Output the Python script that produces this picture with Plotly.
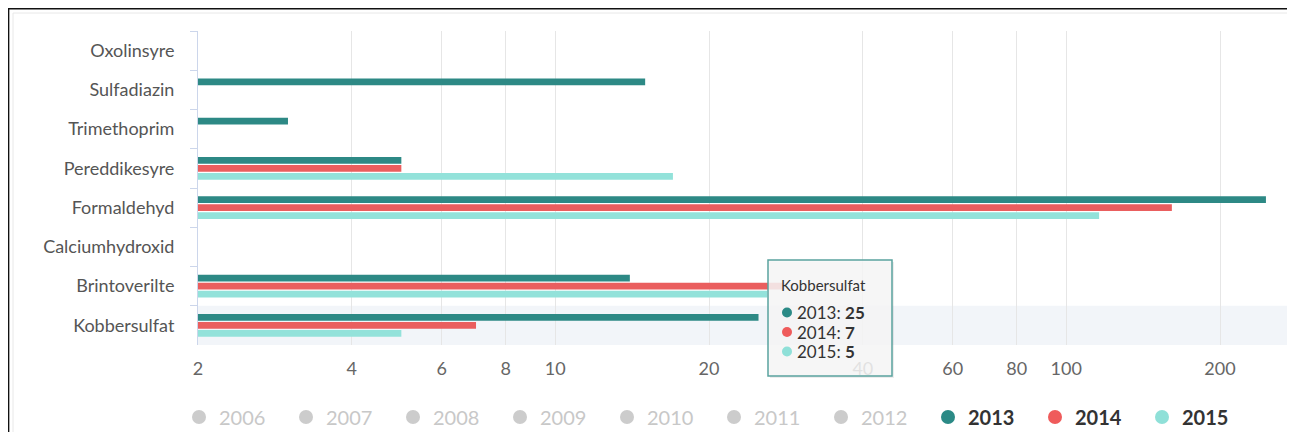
import plotly.graph_objects as go

# ---- data ----
categories = ["Oxolinsyre", "Sulfadiazin", "Trimethoprim", "Pereddikesyre",
              "Formaldehyd", "Calciumhydroxid", "Brintoverilte", "Kobbersulfat"]
years_shown = ["2013", "2014", "2015"]
v2013 = [None, 15, 3, 5, 246, None, 14, 25]
v2014 = [None, None, None, 5, 161, None, 28, 7]
v2015 = [None, None, None, 17, 116, None, 26, 5]
hidden_years = ["2006", "2007", "2008", "2009", "2010", "2011", "2012"]
x_ticks = [2, 4, 6, 8, 10, 20, 40, 60, 80, 100, 200]
tooltip_category = "Kobbersulfat"

colors = {"2013": "#2d8985", "2014": "#ea5e5e", "2015": "#93e2da"}
dot_colors = {"2013": "#2b8a86", "2014": "#ef5b5b", "2015": "#8fe0d8"}
series = {"2013": v2013, "2014": v2014, "2015": v2015}

# ---- geometry: reference page pixels, page has an 8px body margin ----
OFF = 8
W, H = 1287, 440                      # figure size (viewport shows 1287x424)
L, R, T, B = 198 - OFF, 1287 - OFF, 31 - OFF, 345 - OFF
PW, PH = R - L, B - T
PX_PER_DECADE = 511.0
XMIN_LOG = 0.30103
XMAX_LOG = XMIN_LOG + PW / PX_PER_DECADE


def px(xpage):
    return (xpage - OFF - L) / PW


def py(ypage):
    return (B - (ypage - OFF)) / PH


FONT = "Lato"
fig = go.Figure()

for yr in years_shown:
    fig.add_trace(go.Bar(
        y=categories, x=series[yr], orientation="h", name=yr,
        marker=dict(color=colors[yr], line=dict(width=0)),
        showlegend=False, hoverinfo="skip",
    ))

# legend entries with circle symbols
for yr in hidden_years:
    fig.add_trace(go.Scatter(
        x=[None], y=[None], mode="markers",
        name=f"<span style='color:#c8c8c8'>{yr}</span>",
        marker=dict(color="#cccccc", size=14, symbol="circle"),
        showlegend=True, hoverinfo="skip",
    ))
for yr in years_shown:
    fig.add_trace(go.Scatter(
        x=[None], y=[None], mode="markers",
        name=f"<b>{yr}</b>",
        marker=dict(color=dot_colors[yr], size=14, symbol="circle"),
        showlegend=True, hoverinfo="skip",
    ))

idx = categories.index(tooltip_category)
vals = [series[yr][idx] for yr in years_shown]

shapes = [
    # hover band
    dict(type="rect", xref="x domain", yref="y", x0=0, x1=1,
         y0=idx - 0.5, y1=idx + 0.5, fillcolor="#f2f5f9",
         line=dict(width=0), layer="below"),
    # container frames
    dict(type="rect", xref="paper", yref="paper",
         x0=px(13), x1=px(1288), y0=py(13), y1=py(460),
         line=dict(color="#e8e8e8", width=1), fillcolor="rgba(0,0,0,0)"),
    dict(type="line", xref="paper", yref="paper",
         x0=px(8.6), x1=px(8.6), y0=py(8), y1=py(460),
         line=dict(color="#111111", width=1.5)),
    dict(type="line", xref="paper", yref="paper",
         x0=px(8), x1=px(1291), y0=py(8.7), y1=py(8.7),
         line=dict(color="#111111", width=1.5)),
    dict(type="line", xref="paper", yref="paper",
         x0=px(1291), x1=px(1291), y0=py(8), y1=py(460),
         line=dict(color="#111111", width=1.5)),
    # tooltip shadow + box
    dict(type="rect", xref="paper", yref="paper",
         x0=px(770), x1=px(894), y0=py(262), y1=py(378),
         fillcolor="rgba(0,0,0,0.07)", line=dict(width=0)),
    dict(type="rect", xref="paper", yref="paper",
         x0=px(768), x1=px(892), y0=py(260), y1=py(376),
         fillcolor="rgba(247,247,247,0.86)",
         line=dict(color="#5aa39e", width=1.5)),
]

annotations = [
    dict(xref="paper", yref="paper", x=px(779), y=py(285),
         xanchor="left", yanchor="middle", showarrow=False,
         text=tooltip_category,
         font=dict(family=FONT, size=15, color="#333333")),
]
line_y = [312.5, 332, 351.5]
for yr, v, yy in zip(years_shown, vals, line_y):
    shapes.append(dict(type="circle", xref="paper", yref="paper",
                       x0=px(782), x1=px(792), y0=py(yy + 5), y1=py(yy - 5),
                       fillcolor=dot_colors[yr], line=dict(width=0)))
    annotations.append(dict(
        xref="paper", yref="paper", x=px(796), y=py(yy),
        xanchor="left", yanchor="middle", showarrow=False,
        text=f"{yr}: <b>{v}</b>", borderpad=0,
        font=dict(family=FONT, size=17, color="#333333")))

fig.update_layout(
    width=W, height=H,
    margin=dict(l=L, r=W - R, t=T, b=H - B, pad=0, autoexpand=False),
    paper_bgcolor="white", plot_bgcolor="white",
    barmode="group", bargap=0.39, bargroupgap=0.15,
    font=dict(family=FONT, color="#555555"),
    hovermode=False,
    xaxis=dict(
        type="log", range=[XMIN_LOG, XMAX_LOG],
        tickvals=x_ticks, ticktext=[str(t) for t in x_ticks],
        showgrid=True, gridcolor="#e6e6e6", gridwidth=1,
        zeroline=False, showline=False, ticks="",
        tickfont=dict(family=FONT, size=18, color="#666666"),
        ticklabelstandoff=11,
    ),
    yaxis=dict(
        type="category", autorange="reversed",
        showgrid=False, zeroline=False,
        showline=True, linecolor="#ccd6eb", linewidth=1,
        ticks="outside", tickson="boundaries", ticklen=7,
        tickcolor="#ccd6eb",
        tickfont=dict(family=FONT, size=18, color="#555555"),
        ticklabelstandoff=19,
    ),
    legend=dict(
        orientation="h", x=(171 - L) / PW, y=py(417), xanchor="left",
        yanchor="middle", entrywidth=62, entrywidthmode="pixels",
        font=dict(family=FONT, size=20, color="#333333"),
        bgcolor="rgba(0,0,0,0)", itemclick=False, itemdoubleclick=False,
    ),
    shapes=shapes, annotations=annotations,
)

fig.write_html("out.html")
